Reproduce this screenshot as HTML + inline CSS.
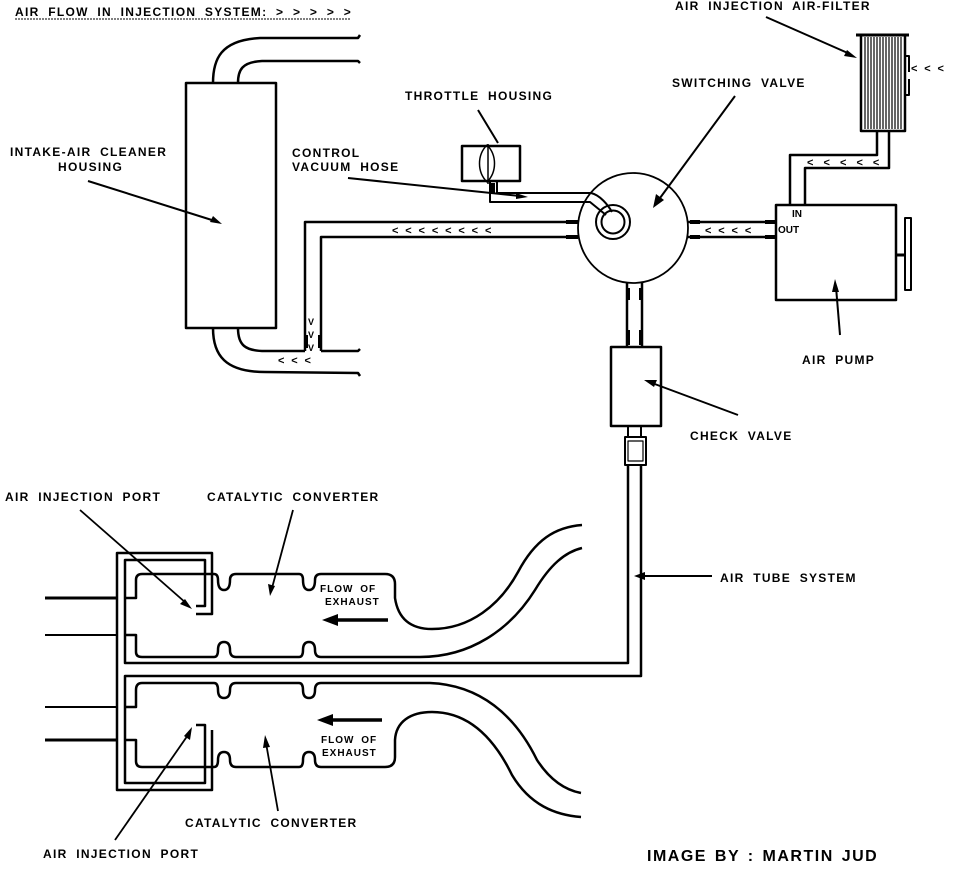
<!DOCTYPE html>
<html><head><meta charset="utf-8"><style>
html,body{margin:0;padding:0;background:#fff;}
svg{display:block;}
text{font-family:"Liberation Sans",sans-serif;font-weight:bold;font-size:12px;fill:#000;letter-spacing:1.3px;word-spacing:4px;}
.a{letter-spacing:1.9px;word-spacing:0;}
.f{font-size:10px;letter-spacing:1px;word-spacing:3px;}
</style></head><body>
<svg width="960" height="870" viewBox="0 0 960 870" xmlns="http://www.w3.org/2000/svg">
<g fill="none" stroke="#000" stroke-width="2.5" stroke-linejoin="round">
<!-- title -->
<text x="15" y="16" stroke="none" style="letter-spacing:1.3px;word-spacing:4px">AIR FLOW IN INJECTION SYSTEM: &gt; &gt; &gt; &gt; &gt;</text>
<line x1="15" y1="19" x2="350" y2="19" stroke-width="1" stroke-dasharray="2,1"/>

<!-- air cleaner -->
<rect x="186" y="83" width="90" height="245"/>
<path d="M213 83 C213 60 220 40 260 38 L358 38 L360 35"/>
<path d="M238 83 C238 70 242 62 262 61 L358 61 L360 63"/>
<path d="M213 328 C213 355 225 372 265 372 L358 373 L360 376"/>
<path d="M238 328 C238 345 245 351 265 351 L305 351"/>
<path d="M321 351 L358 351 L360 349"/>
<!-- vertical tube -->
<path d="M305 351 L305 222 L578 222"/>
<path d="M321 351 L321 237 L578 237"/>
<line x1="306" y1="335" x2="306" y2="348" stroke-width="4"/>
<line x1="320" y1="335" x2="320" y2="348" stroke-width="4"/>
<text x="308" y="325" stroke="none" style="font-size:9px">V</text>
<text x="308" y="338" stroke="none" style="font-size:9px">V</text>
<text x="308" y="351" stroke="none" style="font-size:9px">V</text>
<text x="278" y="364" class="a" stroke="none" style="font-size:11px">&lt; &lt; &lt;</text>
<text x="392" y="234" class="a" stroke="none" style="font-size:11px">&lt; &lt; &lt; &lt; &lt; &lt; &lt; &lt;</text>
<line x1="566" y1="222" x2="578" y2="222" stroke-width="4"/>
<line x1="566" y1="237" x2="578" y2="237" stroke-width="4"/>

<!-- labels top-left -->
<text x="10" y="156" stroke="none">INTAKE-AIR CLEANER</text>
<text x="58" y="171" stroke="none">HOUSING</text>
<line x1="88" y1="181" x2="215" y2="221" stroke-width="2"/>
<polygon points="222,224 210,222 213,216" fill="#000" stroke="none"/>
<text x="292" y="157" stroke="none">CONTROL</text>
<text x="292" y="171" stroke="none">VACUUM HOSE</text>
<line x1="348" y1="178" x2="520" y2="196" stroke-width="2"/>
<polygon points="528,197 516,199 516,193" fill="#000" stroke="none"/>

<!-- throttle housing -->
<text x="405" y="100" stroke="none">THROTTLE HOUSING</text>
<line x1="478" y1="110" x2="498" y2="143" stroke-width="2"/>
<rect x="462" y="146" width="58" height="35"/>
<path d="M487 145 C477 155 477 172 487 182 C497 172 497 155 487 145 Z" stroke-width="1.5"/>
<line x1="488" y1="144" x2="488" y2="184" stroke-width="1.5"/>
<path d="M490 182 L490 202 L590 202 L606 215" stroke-width="2"/>
<path d="M497 182 L497 193 L591 193 C600 195 608 205 612 212" stroke-width="2"/>
<line x1="493" y1="183" x2="493" y2="193" stroke-width="4"/>
<!-- switching valve -->
<circle cx="633" cy="228" r="55" stroke-width="1.8"/>
<circle cx="613" cy="222" r="17" stroke-width="2"/>
<circle cx="613" cy="222" r="11.5" stroke-width="2"/>
<text x="672" y="87" stroke="none">SWITCHING VALVE</text>
<line x1="735" y1="96" x2="660" y2="198" stroke-width="2"/>
<polygon points="653,208 656,194 664,200" fill="#000" stroke="none"/>
<!-- right tube -->
<line x1="688" y1="222" x2="776" y2="222"/>
<line x1="688" y1="237" x2="776" y2="237"/>
<line x1="690" y1="222" x2="700" y2="222" stroke-width="4"/>
<line x1="690" y1="237" x2="700" y2="237" stroke-width="4"/>
<line x1="765" y1="222" x2="776" y2="222" stroke-width="4"/>
<line x1="765" y1="237" x2="776" y2="237" stroke-width="4"/>
<text x="705" y="234" class="a" stroke="none" style="font-size:11px">&lt; &lt; &lt; &lt;</text>
<!-- air pump -->
<rect x="776" y="205" width="120" height="95"/>
<text x="792" y="217" stroke="none" style="font-size:10px;letter-spacing:0">IN</text>
<text x="778" y="233" stroke="none" style="font-size:10px;letter-spacing:0">OUT</text>
<line x1="896" y1="255" x2="905" y2="255" stroke-width="3"/>
<rect x="905" y="218" width="6" height="72" stroke-width="2"/>
<text x="802" y="364" stroke="none">AIR PUMP</text>
<line x1="840" y1="335" x2="836" y2="287" stroke-width="2"/>
<polygon points="835,279 839,292 832,292" fill="#000" stroke="none"/>
<!-- filter -->
<line x1="856" y1="35" x2="909" y2="35" stroke-width="3"/>
<rect x="861" y="35" width="44" height="96"/>
<g stroke-width="1.2">
<line x1="865" y1="37" x2="865" y2="129"/><line x1="868" y1="37" x2="868" y2="129"/>
<line x1="871" y1="37" x2="871" y2="129"/><line x1="874" y1="37" x2="874" y2="129"/>
<line x1="877" y1="37" x2="877" y2="129"/><line x1="880" y1="37" x2="880" y2="129"/>
<line x1="883" y1="37" x2="883" y2="129"/><line x1="886" y1="37" x2="886" y2="129"/>
<line x1="889" y1="37" x2="889" y2="129"/><line x1="892" y1="37" x2="892" y2="129"/>
<line x1="895" y1="37" x2="895" y2="129"/><line x1="898" y1="37" x2="898" y2="129"/>
<line x1="901" y1="37" x2="901" y2="129"/>
</g>
<path d="M906 56 L909 56 L909 72" stroke-width="2"/>
<path d="M909 79 L909 95 L906 95" stroke-width="2"/>
<text x="911" y="72" class="a" stroke="none" style="font-size:11px">&lt; &lt; &lt;</text>
<text x="675" y="10" stroke="none">AIR INJECTION AIR-FILTER</text>
<line x1="766" y1="17" x2="850" y2="54" stroke-width="2"/>
<polygon points="857,58 844,56 847,50" fill="#000" stroke="none"/>
<path d="M877 131 L877 155 L790 155 L790 205"/>
<path d="M889 131 L889 168 L805 168 L805 205"/>
<text x="807" y="166" class="a" stroke="none" style="font-size:11px;letter-spacing:3.5px">&lt; &lt; &lt; &lt; &lt;</text>

<!-- down tube / check valve -->
<line x1="627" y1="283" x2="627" y2="347"/>
<line x1="642" y1="283" x2="642" y2="347"/>
<line x1="628" y1="288" x2="628" y2="300" stroke-width="4"/>
<line x1="641" y1="288" x2="641" y2="300" stroke-width="4"/>
<line x1="628" y1="330" x2="628" y2="345" stroke-width="4"/>
<line x1="641" y1="330" x2="641" y2="345" stroke-width="4"/>
<rect x="611" y="347" width="50" height="79"/>
<text x="690" y="440" stroke="none">CHECK VALVE</text>
<line x1="738" y1="415" x2="652" y2="383" stroke-width="2"/>
<polygon points="644,380 657,380 654,387" fill="#000" stroke="none"/>
<line x1="628" y1="426" x2="628" y2="437" stroke-width="2"/>
<line x1="641" y1="426" x2="641" y2="437" stroke-width="2"/>
<rect x="625" y="437" width="21" height="28" stroke-width="2"/>
<rect x="628" y="441" width="15" height="20" stroke-width="1.2"/>
<!-- air tube -->
<path d="M628 465 L628 663 L125 663 L125 560 L205 560 L205 606 L196 606" stroke-width="2.5"/>
<path d="M641 465 L641 676 L125 676 L125 783 L205 783 L205 725 L196 725" stroke-width="2.5"/>
<path d="M196 614 L212 614 L212 553 L117 553 L117 790 L212 790 L212 730" stroke-width="2.5"/>
<text x="720" y="582" stroke="none">AIR TUBE SYSTEM</text>
<line x1="712" y1="576" x2="642" y2="576" stroke-width="2"/>
<polygon points="634,576 645,572 645,580" fill="#000" stroke="none"/>
<!-- stubs -->
<line x1="45" y1="598" x2="117" y2="598" stroke-width="3"/>
<line x1="45" y1="635" x2="117" y2="635" stroke-width="2"/>
<line x1="45" y1="707" x2="117" y2="707" stroke-width="2"/>
<line x1="45" y1="740" x2="117" y2="740" stroke-width="3"/>

<!-- upper converter -->
<path d="M125 598 L136 598 L136 580 Q136 574 142 574 L214 574 Q218 574 218 580 Q218 590 224 590 Q230 590 230 580 Q230 574 236 574 L299 574 Q303 574 303 580 Q303 590 309 590 Q315 590 315 580 Q315 574 321 574 L385 574 Q395 574 395 584 L395 598 C398 618 410 629 432 629 C470 629 500 605 518 572 C535 540 555 527 582 525"/>
<path d="M125 635 L136 635 L136 652 Q136 657 142 657 L214 657 Q218 657 218 650 Q218 642 224 642 Q230 642 230 650 Q230 657 236 657 L299 657 Q303 657 303 650 Q303 642 309 642 Q315 642 315 650 Q315 657 321 657 L420 657 C470 657 510 630 535 590 C550 565 565 552 582 548"/>
<!-- lower converter -->
<path d="M125 707 L136 707 L136 690 Q136 683 142 683 L214 683 Q218 683 218 690 Q218 698 224 698 Q230 698 230 690 Q230 683 236 683 L299 683 Q303 683 303 690 Q303 698 309 698 Q315 698 315 690 Q315 683 321 683 L430 683 C480 685 515 715 537 760 C550 780 565 790 581 793"/>
<path d="M125 740 L136 740 L136 761 Q136 767 142 767 L214 767 Q218 767 218 760 Q218 752 224 752 Q230 752 230 760 Q230 767 236 767 L299 767 Q303 767 303 760 Q303 752 309 752 Q315 752 315 760 Q315 767 321 767 L385 767 Q395 767 395 757 L395 740 C396 722 410 712 432 712 C470 712 495 740 512 775 C530 805 555 815 581 817"/>
<!-- flow arrows -->
<text x="320" y="592" class="f" stroke="none">FLOW OF</text>
<text x="325" y="605" class="f" stroke="none">EXHAUST</text>
<line x1="336" y1="620" x2="388" y2="620" stroke-width="3.5"/>
<polygon points="322,620 338,614 338,626" fill="#000" stroke="none"/>
<line x1="332" y1="720" x2="382" y2="720" stroke-width="3.5"/>
<polygon points="317,720 333,714 333,726" fill="#000" stroke="none"/>
<text x="321" y="743" class="f" stroke="none">FLOW OF</text>
<text x="322" y="756" class="f" stroke="none">EXHAUST</text>
<!-- bottom labels -->
<text x="5" y="501" stroke="none">AIR INJECTION PORT</text>
<line x1="80" y1="510" x2="186" y2="603" stroke-width="1.8"/>
<polygon points="192,609 180,604 185,599" fill="#000" stroke="none"/>
<text x="207" y="501" stroke="none">CATALYTIC CONVERTER</text>
<line x1="293" y1="510" x2="272" y2="588" stroke-width="1.8"/>
<polygon points="270,596 268,584 275,586" fill="#000" stroke="none"/>
<text x="185" y="827" stroke="none">CATALYTIC CONVERTER</text>
<line x1="278" y1="811" x2="266" y2="743" stroke-width="1.8"/>
<polygon points="265,735 270,747 263,748" fill="#000" stroke="none"/>
<text x="43" y="858" stroke="none">AIR INJECTION PORT</text>
<line x1="115" y1="840" x2="188" y2="735" stroke-width="1.8"/>
<polygon points="192,727 190,740 184,736" fill="#000" stroke="none"/>
<text x="647" y="861" stroke="none" style="font-size:16px;letter-spacing:1.5px;word-spacing:2px">IMAGE BY : MARTIN JUD</text>
</g>
</svg>
</body></html>
